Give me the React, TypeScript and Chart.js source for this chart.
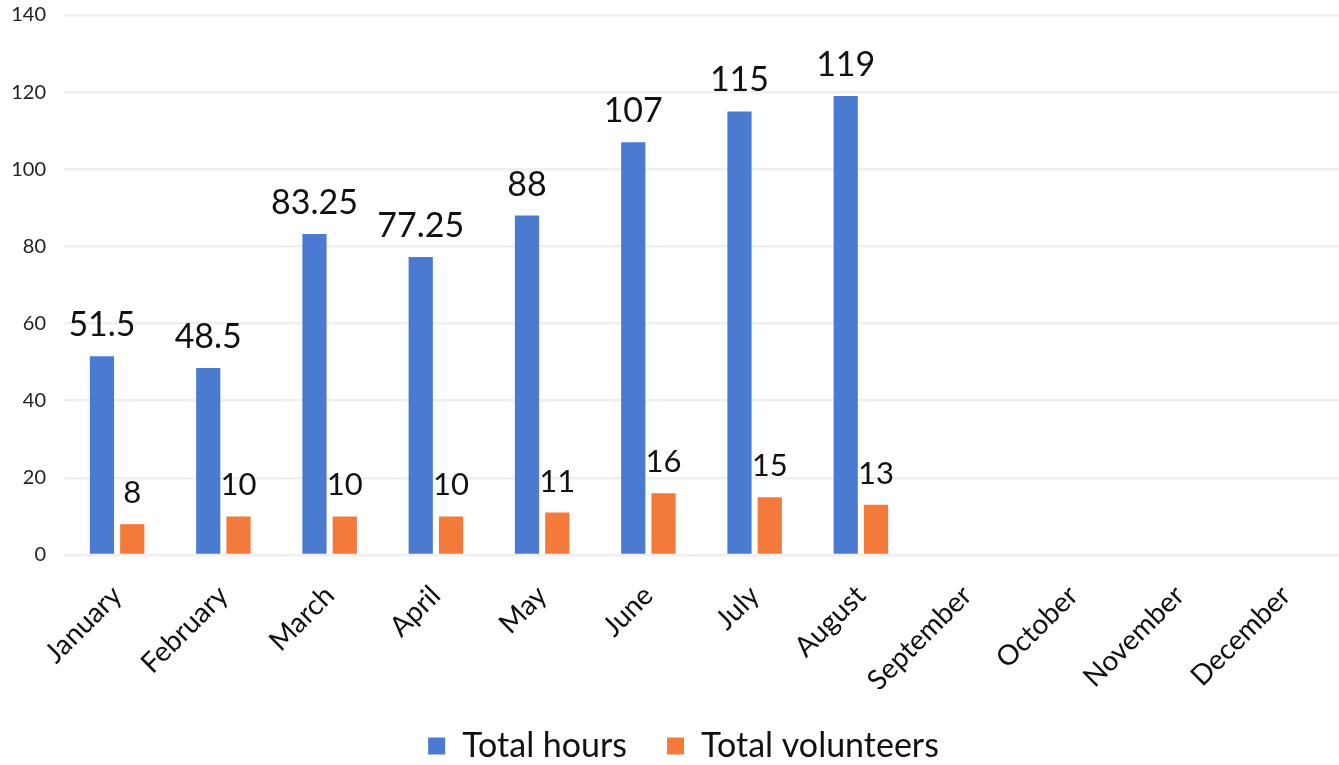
import React, { useEffect, useRef } from "react";
import { Chart, registerables } from "chart.js";

Chart.register(...registerables);

const months = [
  "January", "February", "March", "April", "May", "June",
  "July", "August", "September", "October", "November", "December",
];
const totalHours: (number | null)[] = [51.5, 48.5, 83.25, 77.25, 88, 107, 115, 119, null, null, null, null];
const totalVolunteers: (number | null)[] = [8, 10, 10, 10, 11, 16, 15, 13, null, null, null, null];
const yTicks = [0, 20, 40, 60, 80, 100, 120, 140];

const FONT = "Lato, 'Open Sans', sans-serif";

const labelPlugin = {
  id: "valueLabels",
  afterLayout(chart: any) {
    if (chart.legend) {
      chart.legend.left += 14;
      chart.legend.right += 14;
    }
  },
  afterDatasetsDraw(chart: any) {
    const ctx = chart.ctx;
    ctx.save();
    chart.data.datasets.forEach((ds: any, di: number) => {
      const meta = chart.getDatasetMeta(di);
      const size = di === 0 ? 34 : 31;
      ctx.font = `${size}px ${FONT}`;
      ctx.fillStyle = "#111111";
      ctx.textAlign = "center";
      ctx.textBaseline = "middle";
      meta.data.forEach((el: any, i: number) => {
        const v = ds.data[i];
        if (v === null || v === undefined) return;
        ctx.fillText(String(v), el.x, el.y - 31);
      });
    });
    ctx.restore();
  },
};

export default function App() {
  const ref = useRef<HTMLCanvasElement | null>(null);
  useEffect(() => {
    if (!ref.current) return;
    const chart = new Chart(ref.current, {
      type: "bar",
      data: {
        labels: months,
        datasets: [
          {
            label: "Total hours",
            data: totalHours,
            backgroundColor: "#4a7bd0",
            barPercentage: 0.8,
            categoryPercentage: 0.57,
          },
          {
            label: "Total volunteers",
            data: totalVolunteers,
            backgroundColor: "#f47a3c",
            barPercentage: 0.8,
            categoryPercentage: 0.57,
          },
        ],
      },
      options: {
        animation: false,
        responsive: true,
        maintainAspectRatio: false,
        layout: { padding: { top: 15, right: 0, left: 0, bottom: -8 } },
        plugins: {
          legend: {
            position: "bottom",
            labels: {
              font: { family: FONT, size: 34 },
              color: "#111111",
              boxWidth: 17,
              boxHeight: 17,
              padding: 40,
            },
          },
          tooltip: { enabled: false },
        },
        scales: {
          x: {
            grid: { display: false },
            border: { display: false },
            afterFit: (s: any) => {
              s.height = 134;
            },
            ticks: {
              autoSkip: false,
              maxRotation: 45,
              minRotation: 45,
              padding: 16,
              color: "#111111",
              font: { family: FONT, size: 28 },
            },
          },
          y: {
            min: 0,
            max: 140,
            afterFit: (s: any) => {
              s.width = 64;
              s.paddingTop = 0;
              s.paddingBottom = 0;
            },
            afterBuildTicks: (s: any) => {
              s.ticks = yTicks.map((v) => ({ value: v }));
            },
            grid: { color: "#efefef", lineWidth: 2.5, drawTicks: false },
            border: { display: false },
            ticks: {
              padding: 18,
              color: "#222222",
              font: { family: FONT, size: 20 },
            },
          },
        },
      },
      plugins: [labelPlugin],
    });
    return () => chart.destroy();
  }, []);
  return (
    <div style={{ position: "absolute", left: 0, top: 0, width: 1339, height: 765, background: "#fff" }}>
      <canvas ref={ref} />
    </div>
  );
}
